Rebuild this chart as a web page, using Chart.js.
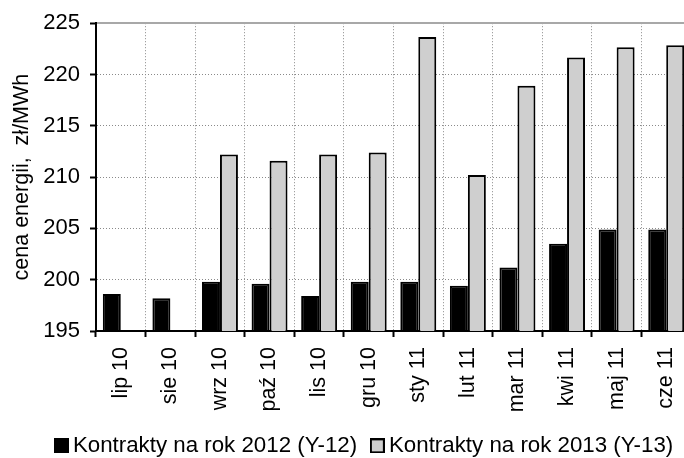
<!DOCTYPE html>
<html>
<head>
<meta charset="utf-8">
<script src="https://cdn.jsdelivr.net/npm/chart.js@4/dist/chart.umd.min.js"></script>
<style>
  html, body { margin: 0; padding: 0; background: #fff; overflow: hidden; width: 684px; height: 458px; }
  canvas { display: block; }
</style>
</head>
<body>
<canvas id="c" width="734" height="467" style="width:734px;height:467px"></canvas>
<script>
const categories = ['lip 10','sie 10','wrz 10','paź 10','lis 10','gru 10','sty 11','lut 11','mar 11','kwi 11','maj 11','cze 11'];
const seriesY12 = [198.6, 198.2, 199.8, 199.6, 198.4, 199.8, 199.8, 199.4, 201.2, 203.5, 204.9, 204.9];
const seriesY13 = [null, null, 212.2, 211.6, 212.2, 212.4, 223.65, 210.2, 218.9, 221.65, 222.65, 222.85];
const yTicks = [195, 200, 205, 210, 215, 220, 225];
const seriesNames = ['Kontrakty na rok 2012 (Y-12)', 'Kontrakty na rok 2013 (Y-13)'];
const seriesFill = ['#000000', '#cfcfcf'];
const yTitle = 'cena energii,  zł/MWh';

const FONT = "'Liberation Sans', Arial, sans-serif";
Chart.defaults.font.family = FONT;
Chart.defaults.color = '#000';

// legend marker swatches (square, black outline)
function makeSwatch(fill) {
  const c = document.createElement('canvas');
  c.width = 15; c.height = 15;
  const g = c.getContext('2d');
  g.fillStyle = '#000';
  g.fillRect(0, 0, 15, 15);
  g.fillStyle = fill;
  g.fillRect(2, 2, 11, 11);
  return c;
}
const swatches = seriesFill.map(makeSwatch);

new Chart(document.getElementById('c'), {
  type: 'bar',
  data: {
    labels: categories,
    datasets: [
      { label: seriesNames[0], data: seriesY12, backgroundColor: seriesFill[0], borderColor: '#000000', borderWidth: 2, borderSkipped: false },
      { label: seriesNames[1], data: seriesY13, backgroundColor: seriesFill[1], borderColor: '#000000', borderWidth: 2, borderSkipped: false }
    ]
  },
  options: {
    responsive: false,
    animation: false,
    devicePixelRatio: 1,
    categoryPercentage: 0.725,
    barPercentage: 1,
    layout: { padding: { top: 20, left: 0, right: 0, bottom: 0 } },
    plugins: {
      tooltip: { enabled: false },
      legend: {
        position: 'bottom',
        labels: {
          font: { size: 22.3, family: FONT },
          color: '#000',
          usePointStyle: true,
          pointStyleWidth: 1,
          boxHeight: 15,
          padding: 19.7,
          generateLabels: (chart) => Chart.defaults.plugins.legend.labels.generateLabels(chart)
            .map((it, i) => Object.assign(it, { pointStyle: swatches[i] }))
        }
      }
    },
    scales: {
      x: {
        type: 'category',
        position: 'bottom',
        afterFit: (s) => { s.height = 84; },
        grid: {
          offset: true,
          color: '#8a8a8a',
          lineWidth: 1,
          tickLength: 6,
          tickColor: '#000',
          tickWidth: 2,
          tickBorderDash: []
        },
        border: { display: true, color: '#000', width: 2, dash: [1, 2] },
        ticks: {
          minRotation: 90,
          maxRotation: 90,
          autoSkip: false,
          padding: 10,
          font: { size: 21.5, family: FONT },
          color: '#000'
        }
      },
      xTop: {
        type: 'category',
        position: 'top',
        labels: categories,
        afterFit: (s) => { s.height = 0; },
        grid: { display: false, drawTicks: false },
        border: { display: true, color: '#a8a8a8', width: 2 },
        ticks: { display: false }
      },
      y: {
        type: 'linear',
        position: 'left',
        min: yTicks[0],
        max: yTicks[yTicks.length - 1],
        afterFit: (s) => { s.width = 96; },
        afterBuildTicks: (s) => { s.ticks = yTicks.map(v => ({ value: v })); },
        grid: {
          color: (ctx) => (ctx.tick && ctx.tick.value === 225) ? 'rgba(0,0,0,0)' : '#8a8a8a',
          lineWidth: 1,
          tickLength: 6,
          tickColor: '#000',
          tickWidth: 2,
          tickBorderDash: []
        },
        border: { display: true, color: '#000', width: 2, dash: [1, 2] },
        ticks: {
          padding: 10,
          font: { size: 22, family: FONT },
          color: '#000'
        },
        title: {
          display: true,
          text: yTitle,
          font: { size: 21.5, family: FONT },
          color: '#000',
          padding: { top: 9, bottom: 0 }
        }
      },
      yRight: {
        type: 'linear',
        position: 'right',
        display: true,
        afterFit: (s) => { s.width = 43; },
        grid: { display: false, drawTicks: false },
        border: { display: false },
        ticks: { display: false }
      }
    }
  }
});
</script>
</body>
</html>
